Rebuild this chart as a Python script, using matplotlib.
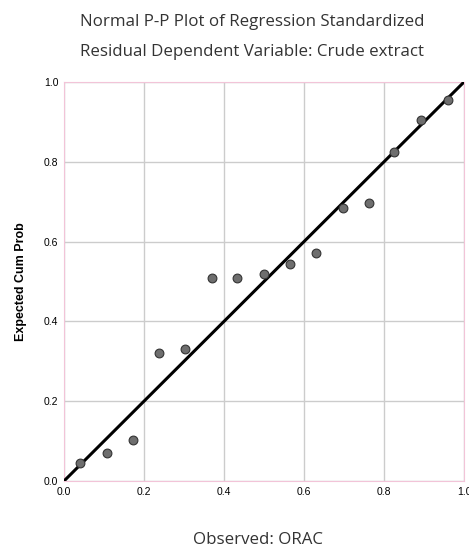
import matplotlib.pyplot as plt

observed = [0.040, 0.107, 0.172, 0.237, 0.302, 0.369, 0.433, 0.500, 0.565, 0.630, 0.697, 0.762, 0.825, 0.892, 0.959]
expected = [0.046, 0.071, 0.104, 0.322, 0.330, 0.508, 0.510, 0.519, 0.545, 0.571, 0.683, 0.697, 0.825, 0.905, 0.955]
ticks = [0.0, 0.2, 0.4, 0.6, 0.8, 1.0]

fig = plt.figure(figsize=(4.69, 5.49), dpi=100)
ax = fig.add_axes([64/469, 1 - 481/549, 400/469, 399/549])

ax.plot([0, 1], [0, 1], color='black', lw=2.2, zorder=3)
ax.scatter(observed, expected, s=40, color='#6e6e6e', edgecolors='#333333', linewidths=0.8, zorder=4)

ax.set_xlim(0, 1)
ax.set_ylim(0, 1)
ax.set_xticks(ticks)
ax.set_yticks(ticks)
ax.set_xticklabels(['%.1f' % t for t in ticks], family='Liberation Sans', fontsize=7.5)
ax.set_yticklabels(['%.1f' % t for t in ticks], family='Liberation Sans', fontsize=7.5)
ax.tick_params(length=0, pad=4)
ax.grid(True, color='#cccccc', lw=1)
ax.set_axisbelow(True)
for s in ax.spines.values():
    s.set_color('#f2c4d8')

ax.set_ylabel('Expected Cum Prob', family='Liberation Sans', fontweight='bold', fontsize=9, labelpad=12)
fig.text(252/469, 1 - 22/549, 'Normal P-P Plot of Regression Standardized', ha='center', va='center',
         family='Open Sans', fontsize=12.2, color='#333333')
fig.text(252/469, 1 - 52/549, 'Residual Dependent Variable: Crude extract', ha='center', va='center',
         family='Open Sans', fontsize=12.2, color='#333333')
fig.text(258/469, 1 - 540/549, 'Observed: ORAC', ha='center', va='center',
         family='Open Sans', fontsize=12.2, color='#333333')

fig.savefig('out.png', dpi=100)
